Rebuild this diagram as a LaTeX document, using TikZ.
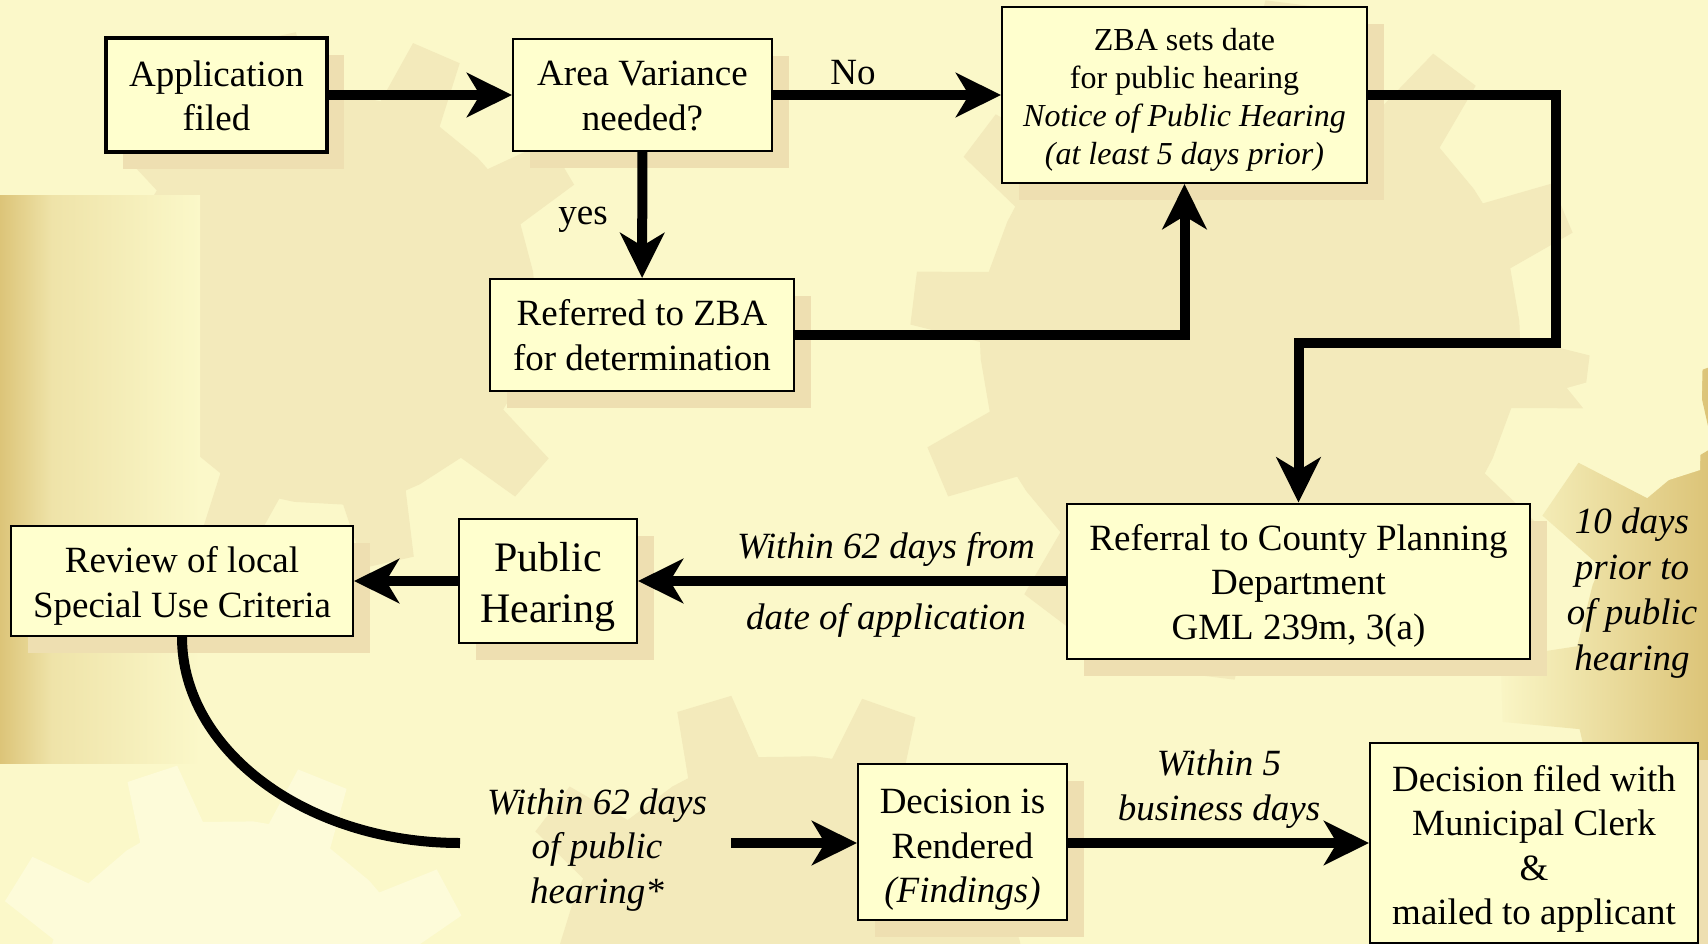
\documentclass[tikz,border=0pt]{standalone}
\usepackage{fontspec}
\setmainfont{Liberation Serif}
\usetikzlibrary{arrows.meta,shadows,calc}
\definecolor{bgbase}{HTML}{FBF8C9}
\definecolor{gearc}{HTML}{F3EABB}
\definecolor{gearl}{HTML}{FDFBD9}
\definecolor{goldc}{HTML}{DCC478}
\definecolor{boxfill}{HTML}{FFFFCE}
\definecolor{shadowc}{HTML}{EEDFB1}
\newcommand{\mygear}[7]{%
  \path[#7, shift={(#1,#2)}, rotate=#6] (0:#4)
  \foreach \k in {1,...,#5}{
    -- ({(\k-1)*360/#5+360/#5*0.12}:#4)
    -- ({(\k-1)*360/#5+360/#5*0.22}:#3)
    -- ({(\k-1)*360/#5+360/#5*0.52}:#3)
    -- ({(\k-1)*360/#5+360/#5*0.62}:#4)
    -- ({\k*360/#5}:#4)} -- cycle;}
\tikzset{
  boxst/.style={draw, line width=2pt, fill=boxfill, inner sep=0pt,
    general shadow={fill=shadowc, shadow xshift=17pt, shadow yshift=-17pt}},
  txt/.style={inner sep=0pt, align=center, font=\fontsize{37}{44.5}\selectfont},
  lab/.style={inner sep=0pt, align=center, font=\fontsize{37}{44.5}\selectfont\itshape},
  conn/.style={line width=10pt, line join=miter, line cap=butt,
    -{Stealth[length=45pt, width=44pt, inset=13pt]}},
  connplain/.style={line width=10pt, line join=miter, line cap=butt}
}
\begin{document}
\begin{tikzpicture}[x=1pt,y=-1pt]
\fill[bgbase] (0,0) rectangle (1708,944);
\useasboundingbox (0,0) rectangle (1708,944);
\begin{scope}
\clip (0,0) rectangle (1708,944);
\mygear{330}{300}{270}{205}{10}{8}{fill=gearc}
\mygear{1250}{340}{340}{270}{12}{4}{fill=gearc}
\mygear{790}{990}{300}{235}{10}{12}{fill=gearc}
\mygear{230}{1010}{250}{190}{9}{3}{fill=gearl}
\begin{scope}
\mygear{1840}{680}{340}{265}{10}{15}{clip}
\shade[left color=bgbase, right color=goldc] (1490,250) rectangle (1708,960);
\end{scope}
\fill[bgbase] (1567,388) -- (1647,487) -- (1700,470) -- (1703,350) -- cycle;
\shade[left color=goldc, right color=goldc!40!bgbase] (0,196) rectangle (52,763);
\shade[left color=goldc!40!bgbase, right color=bgbase] (52,196) rectangle (200,763);
\end{scope}

% boxes
\node[boxst, line width=4pt, minimum width=221pt, minimum height=114pt] (app) at (216.5,95) {};
\node[boxst, minimum width=259pt, minimum height=112pt] (av) at (642.5,95) {};
\node[boxst, minimum width=304pt, minimum height=112pt] (ref) at (642,335) {};
\node[boxst, minimum width=365pt, minimum height=176pt] (zba) at (1184.5,95) {};
\node[boxst, minimum width=463pt, minimum height=155pt] (cnty) at (1298.5,581) {};
\node[boxst, minimum width=178pt, minimum height=124pt] (ph) at (548,581) {};
\node[boxst, minimum width=342pt, minimum height=110pt] (rev) at (182,581) {};
\node[boxst, minimum width=209pt, minimum height=156pt] (dec) at (962.5,842) {};
\node[boxst, minimum width=328pt, minimum height=200pt] (fil) at (1534,843) {};

% box texts
\node[txt] (appT) at ($(app)+(0,1)$) {Application\\filed};
\node[txt] (avT) at ($(av)+(0,1)$) {Area Variance\\needed?};
\node[txt] (refT) at ($(ref)+(0,0)$) {Referred to ZBA\\for determination};
\node[txt, font=\fontsize{32}{38}\selectfont] (zbaT) at ($(zba)+(0,5)$)
  {ZBA sets date\\for public hearing\\\textit{Notice of Public Hearing}\\\textit{(at least 5 days prior)}};
\node[txt] (cntyT) at ($(cnty)+(0,4.5)$) {Referral to County Planning\\Department\\GML 239m, 3(a)};
\node[txt, font=\fontsize{42}{51}\selectfont] (phT) at ($(ph)+(0,6)$) {Public\\Hearing};
\node[txt] (revT) at ($(rev)+(0,5)$) {Review of local\\Special Use Criteria};
\node[txt] (decT) at ($(dec)+(0,8)$) {Decision is\\Rendered\\\textit{(Findings)}};
\node[txt] (filT) at ($(fil)+(0,6)$) {Decision filed with\\Municipal Clerk\\\&\\mailed to applicant};

% labels
\node[txt] (lno) at (853,73) {No};
\node[txt] (lyes) at (583,220) {yes};
\node[lab] (l62a) at (886,549) {Within 62 days from};
\node[lab] (l62b) at (886,620) {date of application};
\node[lab, font=\fontsize{37}{45.5}\selectfont\itshape] (l10) at (1632,593) {10 days\\prior to\\of public\\hearing};
\node[lab] (l62c) at (597,850) {Within 62 days\\of public\\hearing*};
\node[lab] (l5) at (1219,789) {Within 5\\business days};

% connectors
\coordinate (k1) at (1556,95);
\coordinate (k2) at (1298.5,343);
\coordinate (k3) at (460,843);
\coordinate (k4) at (731,843);
\draw[conn] (app) -- (av);
\draw[conn] (av) -- (zba);
\draw[conn] (av) -- (ref);
\draw[conn] (ref) -| (zba);
\draw[conn] (zba.east) -- (k1) |- (k2) -- (cnty.north);
\draw[conn] (cnty) -- (ph);
\draw[conn] (ph) -- (rev);
\draw[connplain] (rev.south) .. controls (182,750) and (306,843) .. (k3);
\draw[conn] (k4) -- (dec.west |- k4);
\draw[conn] (dec.east |- k4) -- (fil.west |- k4);
\end{tikzpicture}
\end{document}
